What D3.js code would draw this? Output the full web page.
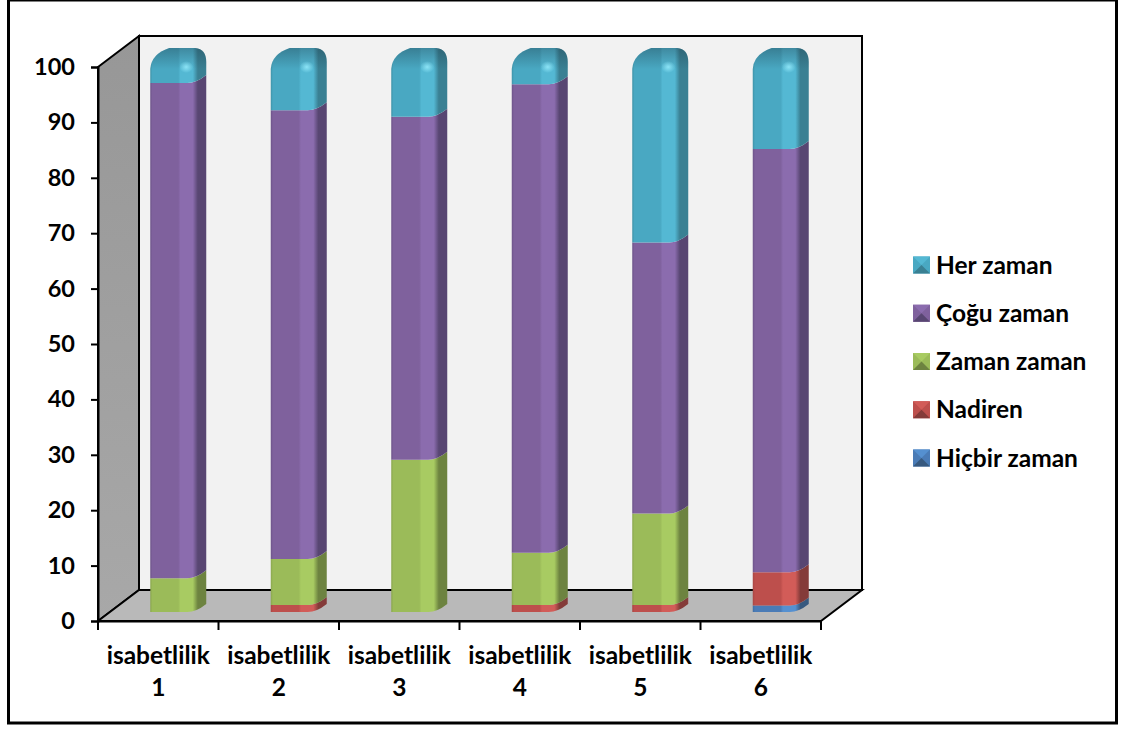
<!DOCTYPE html>
<html>
<head>
<meta charset="utf-8">
<script src="https://cdn.jsdelivr.net/npm/d3@7/dist/d3.min.js"></script>
<style>
html,body{margin:0;padding:0;background:#fff}
svg{display:block}
text{font-family:Lato,"Open Sans",sans-serif;font-weight:700;fill:#000}
</style>
</head>
<body>
<svg id="chart" width="1123" height="729"></svg>
<script>
const categories = ["isabetlilik 1","isabetlilik 2","isabetlilik 3","isabetlilik 4","isabetlilik 5","isabetlilik 6"];
const seriesNames = ["Hiçbir zaman","Nadiren","Zaman zaman","Çoğu zaman","Her zaman"];
const hicbir = [0,0,0,0,0,1];
const nadiren = [0,1.1,0,1.1,1.1,6];
const zamanZaman = [5.9,8.3,27.3,9.4,16.5,0];
const cogu = [89.4,81,61.9,84.6,48.9,76.4];
const herZaman = [4.7,9.6,10.8,4.9,33.5,16.6];
const yTicks = [0,10,20,30,40,50,60,70,80,90,100];
const palette = {
  "Hiçbir zaman":{dark:"#3f6da3",main:"#4a7bb6",light:"#5590d0",side:"#37597f"},
  "Nadiren":{dark:"#a84643",main:"#bd4f4c",light:"#d25c58",side:"#843b39"},
  "Zaman zaman":{dark:"#8aa64f",main:"#9bbb59",light:"#a8cb62",side:"#6d8340"},
  "Çoğu zaman":{dark:"#6d5489",main:"#7f619d",light:"#8b6cae",side:"#584672"},
  "Her zaman":{dark:"#3f93a8",main:"#49a8c2",light:"#54b8d3",side:"#3a8093"}
};

const svg = d3.select("#chart");
const defs = svg.append("defs");

// Plot box: front plane plus the depth offset of the back wall
const left = 98, right = 821, y0 = 621, y100 = 67, depthX = 41, depthY = -31;
const x = d3.scaleBand().domain(categories).range([left, right]);
const y = d3.scaleLinear().domain([0,100]).range([y0, y100]);

// Outer frame
svg.append("rect").attr("x",8.5).attr("y",0).attr("width",1108).attr("height",723)
  .attr("fill","#fff").attr("stroke","#000").attr("stroke-width",3);

// Walls and floor
const wallLine = {stroke:"#000","stroke-width":2,"stroke-linejoin":"miter"};
const sideGrad = defs.append("linearGradient").attr("id","sideWall").attr("x1",0).attr("x2",0).attr("y1",0).attr("y2",1);
sideGrad.append("stop").attr("offset","0%").attr("stop-color","#979797");
sideGrad.append("stop").attr("offset","100%").attr("stop-color","#a8a8a8");
const poly = (pts, fill) => {
  const p = svg.append("path").attr("d","M"+pts.map(q=>q.join(",")).join("L")+"Z").attr("fill",fill);
  Object.entries(wallLine).forEach(([k,v])=>p.attr(k,v));
  return p;
};
poly([[left+depthX,y100+depthY],[right+depthX,y100+depthY],[right+depthX,y0+depthY],[left+depthX,y0+depthY]],"#f2f2f2");
poly([[left,y100],[left+depthX,y100+depthY],[left+depthX,y0+depthY],[left,y0]],"url(#sideWall)");
poly([[left,y0],[left+depthX,y0+depthY],[right+depthX,y0+depthY],[right,y0]],"#b9b9b9");

// Gradients for the bar segments
const barWidth = 56, lift = 8, barShiftY = -10;
Object.entries(palette).forEach(([name,c],i)=>{
  const g = defs.append("linearGradient").attr("id","seg"+i);
  [[0,c.dark],[0.04,c.main],[0.5,c.main],[0.54,c.light],[0.76,c.light],[0.85,c.side],[1,c.side]].forEach(([o,col])=>{
    g.append("stop").attr("offset",o).attr("stop-color",col);
  });
});
const capShade = defs.append("linearGradient").attr("id","capShade").attr("x1",0).attr("x2",0).attr("y1",0).attr("y2",1);
capShade.append("stop").attr("offset",0).attr("stop-color","#1c3c4a").attr("stop-opacity",0.38);
capShade.append("stop").attr("offset",1).attr("stop-color","#1c3c4a").attr("stop-opacity",0);
const glow = defs.append("radialGradient").attr("id","capGlow");
glow.append("stop").attr("offset",0).attr("stop-color","#8fe6f8").attr("stop-opacity",0.95);
glow.append("stop").attr("offset",1).attr("stop-color","#8fe6f8").attr("stop-opacity",0);

// Boundary of a segment: straight across the face, curving up over the side
const edgeOut = (x0, yy) => `M${x0},${yy}L${x0+37},${yy}Q${x0+46},${yy} ${x0+barWidth},${yy-lift}`;
const edgeBack = (x0, yy) => `L${x0+barWidth},${yy-lift}Q${x0+46},${yy} ${x0+37},${yy}L${x0},${yy}`;
// Rounded outline of the top of a column, left to right reversed
const capOutline = (x0, top) => `L${x0+barWidth},${top+5}Q${x0+barWidth},${top-8} ${x0+45},${top-9}L${x0+19},${top-9}Q${x0+1},${top-3} ${x0},${top+12}`;

const stacks = d3.stack().keys(seriesNames).value((d,k)=>d[k])(
  categories.map((c,i)=>({category:c,
    [seriesNames[0]]:hicbir[i],[seriesNames[1]]:nadiren[i],[seriesNames[2]]:zamanZaman[i],
    [seriesNames[3]]:cogu[i],[seriesNames[4]]:herZaman[i]})));

const barX = c => x(c) + x.bandwidth()/2 - barWidth/2 + 20;
const barY = v => y(v) + barShiftY;

stacks.forEach((layer,li)=>{
  const isTop = li === stacks.length-1;
  svg.append("g").selectAll("path").data(layer.filter(d=>d[1]>d[0])).join("path")
    .attr("fill",`url(#seg${li})`)
    .attr("d",d=>{
      const x0 = barX(d.data.category), bottom = barY(d[0]) + (d[0]===0?1:0), top = barY(d[1]);
      return edgeOut(x0,bottom) + (isTop ? capOutline(x0,top) : edgeBack(x0,top)) + "Z";
    });
  if (isTop) {
    const g = svg.append("g").selectAll("g").data(layer).join("g");
    g.append("path").attr("fill","url(#capShade)")
      .attr("d",d=>{
        const x0 = barX(d.data.category), top = barY(d[1]);
        return `M${x0},${top+12}L${x0+barWidth},${top+12}` + capOutline(x0,top) + "Z";
      });
    g.append("ellipse").attr("fill","url(#capGlow)")
      .attr("cx",d=>barX(d.data.category)+36).attr("cy",d=>barY(d[1])+10).attr("rx",7).attr("ry",6);
  }
});

// Axes
const labelSize = 24.5;
const yAxis = d3.axisLeft(y).tickValues(yTicks).tickSize(7).tickPadding(16);
const gy = svg.append("g").attr("transform",`translate(${left},0)`).call(yAxis);
gy.selectAll("line").attr("stroke","#000").attr("stroke-width",2);
gy.select(".domain").attr("stroke","#000").attr("stroke-width",2);
gy.selectAll("text").attr("font-size",23.5).style("font-family","Lato").style("font-weight",700).attr("fill","#000");

const xAxis = d3.axisBottom(x).tickSize(0).tickFormat("");
const gx = svg.append("g").attr("transform",`translate(0,${y0})`).call(xAxis);
gx.select(".domain").attr("stroke","#000").attr("stroke-width",2);
gx.selectAll(".tick").remove();
gx.selectAll("line.sep").data(categories.concat(["end"])).join("line").attr("class","sep")
  .attr("x1",(d,i)=>i<categories.length?x(d):right).attr("x2",(d,i)=>i<categories.length?x(d):right)
  .attr("y1",0).attr("y2",9).attr("stroke","#000").attr("stroke-width",2);
const catLabels = svg.append("g").selectAll("text").data(categories).join("text")
  .attr("text-anchor","middle").attr("font-size",labelSize)
  .attr("x",d=>x(d)+x.bandwidth()/2);
catLabels.append("tspan").attr("y",664).attr("x",d=>x(d)+x.bandwidth()/2).text(d=>d.split(" ")[0]);
catLabels.append("tspan").attr("y",696).attr("x",d=>x(d)+x.bandwidth()/2).text(d=>d.split(" ")[1]);

// Legend, top series first
const legendOrder = seriesNames.slice().reverse();
const ly = d3.scalePoint().domain(legendOrder).range([265,458]);
const legend = svg.append("g").selectAll("g").data(legendOrder).join("g")
  .attr("transform",d=>`translate(913,${ly(d)})`);
const sz = 17;
legend.append("rect").attr("x",0).attr("y",-sz/2).attr("width",sz).attr("height",sz).attr("fill",d=>palette[d].main);
legend.append("path").attr("d",`M0,${-sz/2}L${sz},${-sz/2}L${sz/2},0Z`).attr("fill",d=>palette[d].light);
legend.append("path").attr("d",`M0,${sz/2}L${sz/2},0L${sz},${sz/2}Z`).attr("fill",d=>palette[d].side);
legend.append("text").attr("x",23).attr("y",8.5).attr("font-size",labelSize).text(d=>d);
</script>
</body>
</html>
